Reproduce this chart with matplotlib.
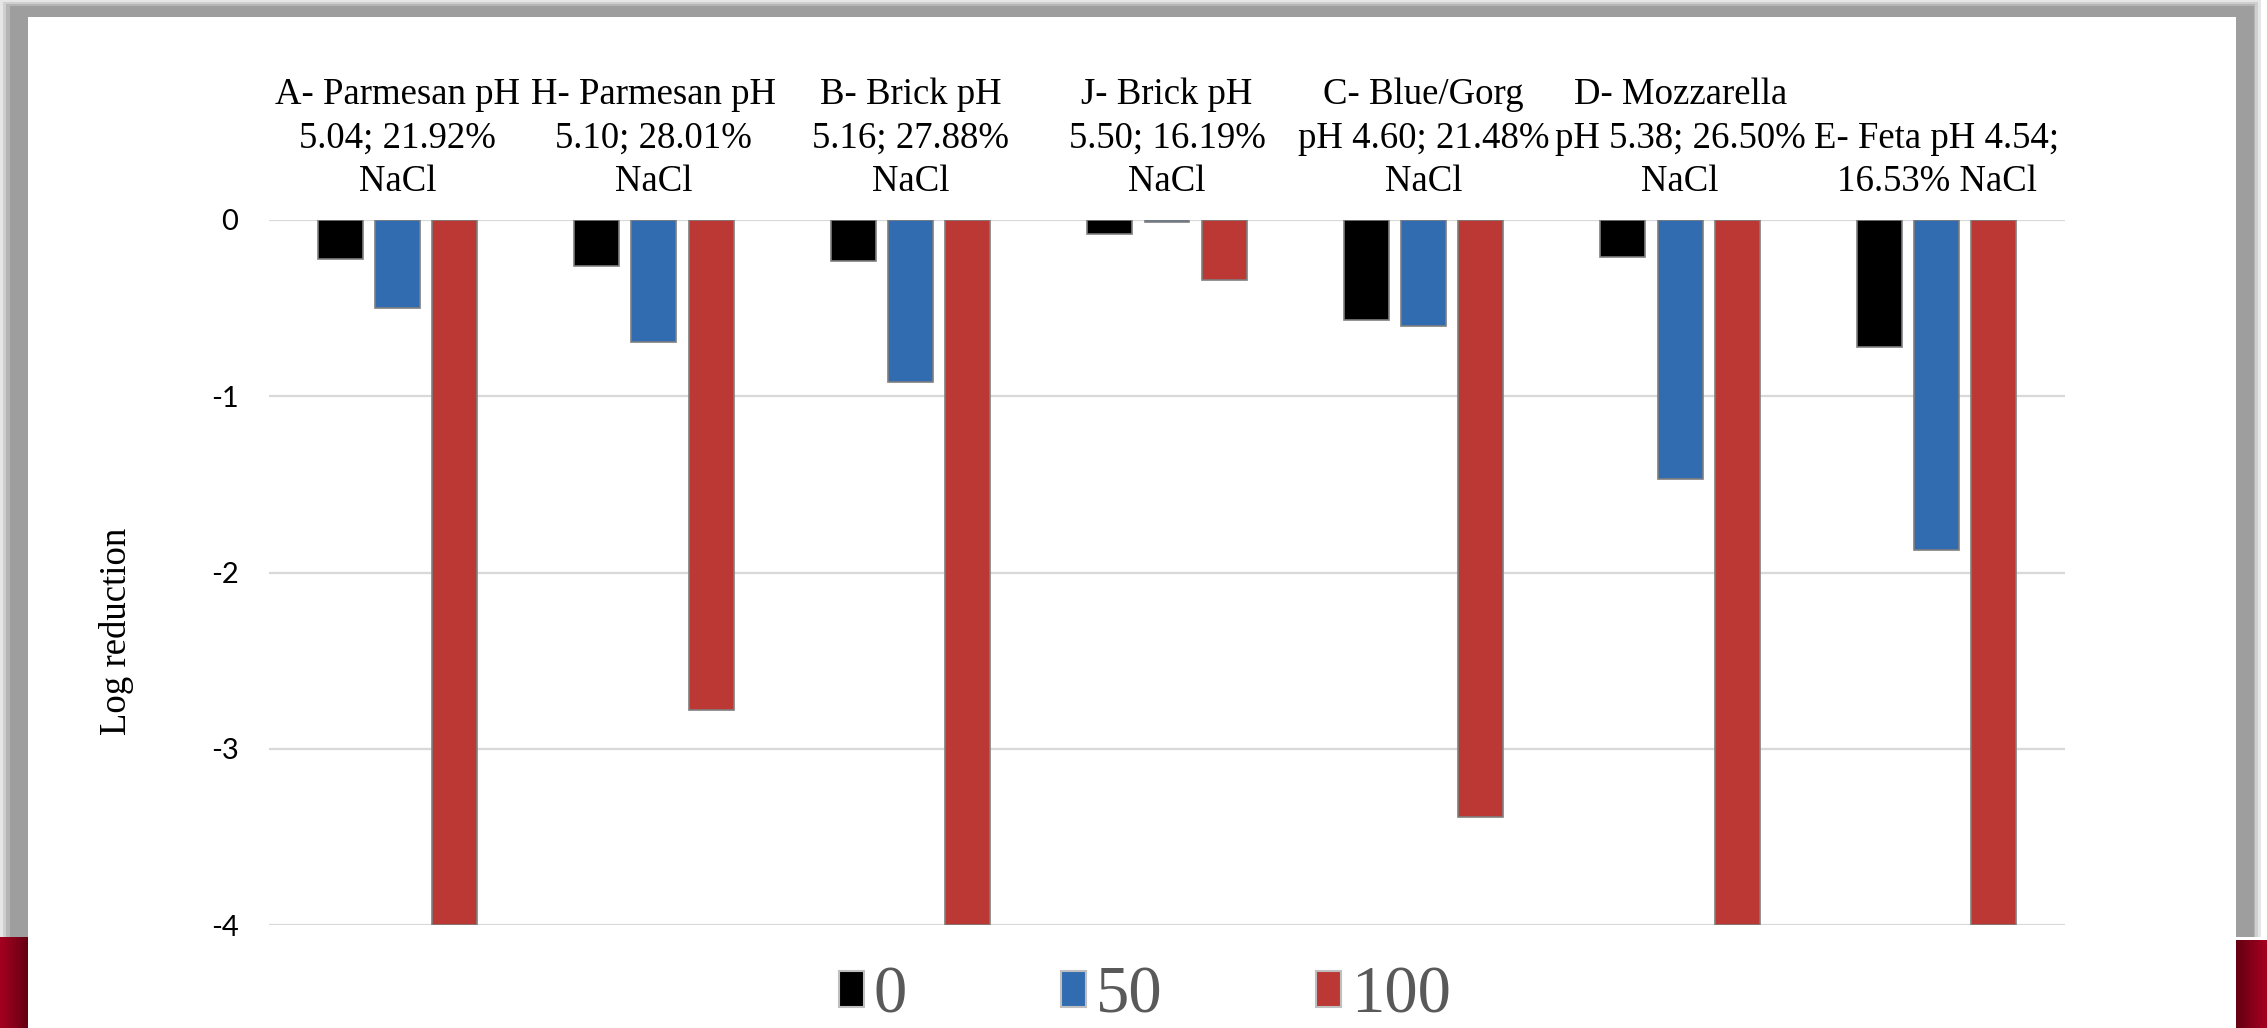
import numpy as np
import matplotlib
matplotlib.use("Agg")
import matplotlib.pyplot as plt
from matplotlib.patches import Rectangle, Patch

# ---------------------------------------------------------------------------
# Data (log reduction per cheese, three treatment levels)
# ---------------------------------------------------------------------------
cheeses = [
    "A- Parmesan pH\n5.04; 21.92%\nNaCl",
    "H- Parmesan pH\n5.10; 28.01%\nNaCl",
    "B- Brick pH\n5.16; 27.88%\nNaCl",
    "J- Brick pH\n5.50; 16.19%\nNaCl",
    "C- Blue/Gorg\npH 4.60; 21.48%\nNaCl",
    "D- Mozzarella\npH 5.38; 26.50%\nNaCl",
    "E- Feta pH 4.54;\n16.53% NaCl",
]
series_names = ["0", "50", "100"]
vals_0 = [-0.22, -0.26, -0.23, -0.08, -0.57, -0.21, -0.72]
vals_50 = [-0.50, -0.69, -0.92, -0.01, -0.60, -1.47, -1.87]
vals_100 = [-4.0, -2.78, -4.0, -0.34, -3.39, -4.0, -4.0]
yticks = [0, -1, -2, -3, -4]

colors = ["#000000", "#316CB0", "#BB3835"]

W, H = 2267, 1028
fig = plt.figure(figsize=(W / 100, H / 100), dpi=100)
fig.patch.set_facecolor("white")


def px_rect(x0, y0, x1, y1, **kw):
    # rectangle in pixel coords (y from top)
    fig.patches.append(Rectangle((x0 / W, 1 - y1 / H), (x1 - x0) / W, (y1 - y0) / H,
                                 transform=fig.transFigure, lw=0, **kw))


# slide frame: soft grey border, white panel, red band at the bottom sides
for i, c in enumerate(["#e6e6e6", "#cfcfcf", "#b5b5b5"]):
    px_rect(i * 3, i * 2, W - 6 - i * 3, 937, color=c, zorder=-10 + i)
px_rect(10, 6, 2254, 937, color="#9e9e9e", zorder=-6)
px_rect(28, 17, 2236, H, color="white", zorder=-5)
reds = np.linspace(0, 1, 14)
for k, t in enumerate(reds):
    c = (0.64 - 0.24 * t, 0.0, 0.12 - 0.05 * t)
    px_rect(k * 2, 937, k * 2 + 2.2, H, color=c, zorder=-4)
    px_rect(W - k * 2.2 - 2.4, 940, W - k * 2.2, H, color=c, zorder=-4)

ax = fig.add_axes([269 / W, 1 - 925 / H, (2065 - 269) / W, (925 - 220) / H])
ax.set_facecolor("none")

x = np.arange(len(cheeses))
bw = 0.175
step = 0.223
for j, (vals, col) in enumerate(zip([vals_0, vals_50, vals_100], colors)):
    ax.bar(x + (j - 1) * step, vals, width=bw, color=col,
           edgecolor="#7f7f7f", linewidth=1.2, label=series_names[j], zorder=3)

ax.set_xlim(-0.5, len(cheeses) - 0.5)
ax.set_ylim(-4, 0)
ax.set_yticks(yticks)
ax.set_yticklabels([str(v) for v in yticks], family="Lato", fontsize=21)
ax.yaxis.grid(True, color="#d9d9d9", linewidth=1.6)
ax.set_axisbelow(True)
for s in ax.spines.values():
    s.set_visible(False)
ax.tick_params(axis="y", length=0, pad=22)

ax.set_xticks(x)
ax.set_xticklabels(cheeses, family="Liberation Serif", fontsize=26.5,
                   linespacing=1.34)
ax.tick_params(axis="x", length=0, top=False, bottom=False,
               labeltop=True, labelbottom=False, pad=15)

ax.set_ylabel("Log reduction", family="Liberation Serif", fontsize=26.5)
ax.yaxis.set_label_coords(-0.075, 0.417)

handles = [Patch(facecolor=c, edgecolor="#bfbfbf", linewidth=1.5) for c in colors]
fig.legend(handles, series_names, loc="center", bbox_to_anchor=(0.505, 0.031),
           ncol=3, frameon=False, prop={"family": "Liberation Serif", "size": 48},
           labelcolor="#595959", handlelength=0.38, handleheight=0.45,
           handletextpad=0.15, columnspacing=2.3)

fig.savefig("out.png", dpi=100)
